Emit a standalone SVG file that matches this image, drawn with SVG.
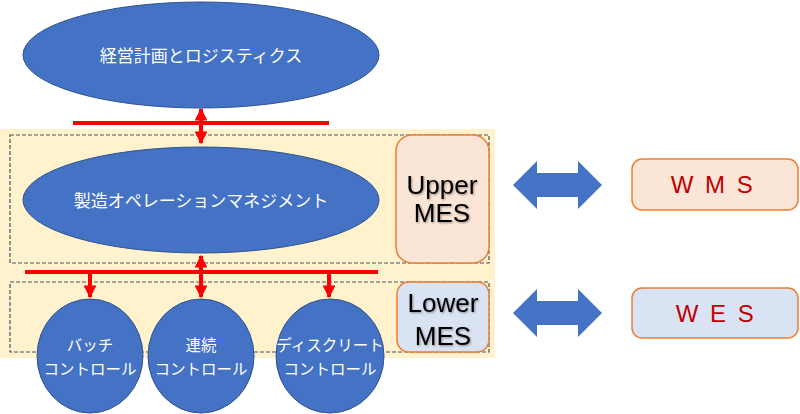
<svg xmlns="http://www.w3.org/2000/svg" width="800" height="414" viewBox="0 0 800 414">
<defs>
<style>
.ell{fill:#4472C4;stroke:#2F528F;stroke-width:1}
.wt{fill:#fff;font-family:"Noto Sans CJK JP","Noto Sans",sans-serif;text-anchor:middle}
.dash{fill:none;stroke:#44546A;stroke-width:1.2;stroke-dasharray:4 2}
.red{stroke:#FF0000;stroke-width:4;fill:none}
.mes{font-family:"Liberation Sans",Arial,sans-serif;font-size:26px;fill:#000;text-anchor:middle}
.sys{font-family:"Liberation Sans",Arial,sans-serif;font-size:24px;fill:#C00000;text-anchor:middle;letter-spacing:2.5px}
.box{stroke:#ED7D31;stroke-width:1.5}
</style>
<marker id="ah" viewBox="0 0 10 10" refX="9" refY="5" markerWidth="3.2" markerHeight="3.2" orient="auto-start-reverse" markerUnits="strokeWidth">
<path d="M0,0 L10,5 L0,10 Z" fill="#FF0000"/>
</marker>
<filter id="sh" x="-10%" y="-10%" width="130%" height="130%">
<feDropShadow dx="1" dy="1" stdDeviation="0.8" flood-color="#000" flood-opacity="0.4"/>
</filter>
</defs>
<rect x="0" y="129" width="495" height="229" fill="#FFF2CC"/>
<rect class="dash" x="10" y="135" width="479" height="128"/>
<rect class="dash" x="10" y="282" width="479" height="70"/>
<g id="connectors">
<line class="red" x1="73" y1="123" x2="329" y2="123"/>
<line class="red" x1="201" y1="109" x2="201" y2="143" marker-start="url(#ah)" marker-end="url(#ah)"/>
<line class="red" x1="25" y1="272" x2="378" y2="272"/>
<line class="red" x1="201" y1="256" x2="201" y2="297" marker-start="url(#ah)" marker-end="url(#ah)"/>
<line class="red" x1="90" y1="272" x2="90" y2="297" marker-end="url(#ah)"/>
<line class="red" x1="329" y1="272" x2="329" y2="297" marker-end="url(#ah)"/>
<path d="M513,185 L537,161 L537,173 L578,173 L578,161 L602,185 L578,209 L578,197 L537,197 L537,209 Z" fill="#4472C4"/>
<path d="M513,313 L537,289 L537,301 L578,301 L578,289 L602,313 L578,337 L578,325 L537,325 L537,337 Z" fill="#4472C4"/>
</g>
<g id="top">
<ellipse class="ell" cx="201" cy="55" rx="178" ry="53"/>
<text class="wt" x="201" y="62" font-size="17">経営計画とロジスティクス</text>
</g>
<g id="mom">
<ellipse class="ell" cx="201" cy="200" rx="178" ry="53"/>
<text class="wt" x="201" y="207" font-size="17">製造オペレーションマネジメント</text>
</g>
<g id="batch">
<ellipse class="ell" cx="90" cy="356" rx="53" ry="57"/>
<text class="wt" x="90" y="351" font-size="15.5">バッチ</text>
<text class="wt" x="90" y="375" font-size="15.5">コントロール</text>
</g>
<g id="cont">
<ellipse class="ell" cx="201" cy="356" rx="53" ry="57"/>
<text class="wt" x="201" y="351" font-size="15.5">連続</text>
<text class="wt" x="201" y="375" font-size="15.5">コントロール</text>
</g>
<g id="disc">
<ellipse class="ell" cx="330" cy="356" rx="54" ry="57"/>
<text class="wt" x="330" y="351" font-size="15.5">ディスクリート</text>
<text class="wt" x="330" y="375" font-size="15.5">コントロール</text>
</g>
<g id="upper">
<rect class="box" x="396" y="135" width="93" height="128" rx="16" fill="#FBE5D6"/>
<text class="mes" x="442" y="194" filter="url(#sh)">Upper</text>
<text class="mes" x="442" y="222" filter="url(#sh)">MES</text>
</g>
<g id="lower">
<rect class="box" x="397" y="282" width="92" height="70" rx="12" fill="#DAE3F3"/>
<text class="mes" x="443" y="312" filter="url(#sh)">Lower</text>
<text class="mes" x="443" y="345" filter="url(#sh)">MES</text>
</g>
<g id="wms">
<rect class="box" x="632" y="159" width="166" height="51" rx="10" fill="#FBE5D6"/>
<text class="sys" x="713" y="193">W M S</text>
</g>
<g id="wes">
<rect class="box" x="632" y="288" width="166" height="50" rx="10" fill="#DAE3F3"/>
<text class="sys" x="716" y="322">W E S</text>
</g>
</svg>
